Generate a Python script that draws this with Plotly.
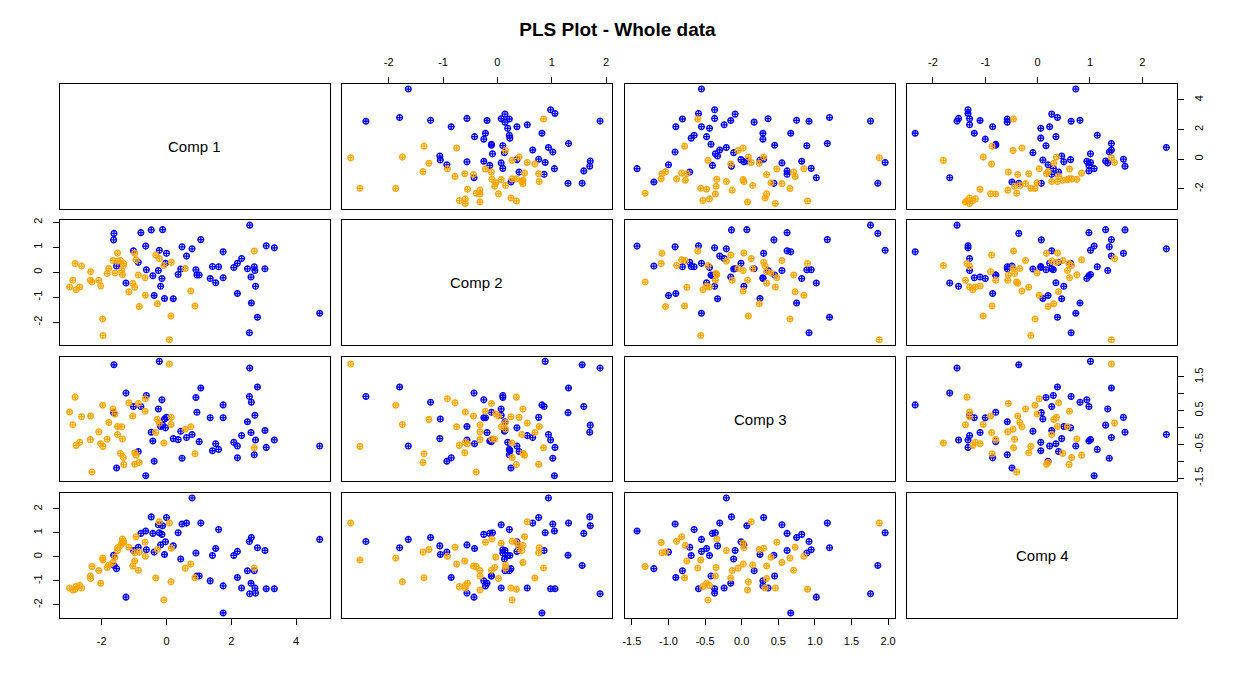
import plotly.graph_objects as go

# ---- data (component scores) ----
comp1 = [-1.63, -1.62, -1.54, -1.25, -1.02, -0.87, -0.79, -0.64, -0.62, -0.47, -0.42, -0.38, -0.25, -0.22,
         -0.18, -0.14, -0.12, -0.06, -0.03, 0.00, 0.21, 0.36, 0.44, 0.48, 0.62, 0.79, 0.91, 0.94, 1.01, 1.06,
         1.35, 1.42, 1.52, 1.61, 1.75, 1.75, 2.08, 2.19, 2.19, 2.32, 2.50, 2.56, 2.57, 2.61, 2.62, 2.71, 2.73,
         2.75, 2.81, 3.04, 3.08, 3.33, 4.73,
         -2.99, -2.89, -2.82, -2.79, -2.68, -2.62, -2.35, -2.34, -2.30, -2.09, -2.03, -1.97, -1.96, -1.83,
         -1.78, -1.65, -1.59, -1.51, -1.51, -1.42, -1.38, -1.36, -1.33, -1.32, -1.16, -1.04, -0.98, -0.98,
         -0.94, -0.87, -0.84, -0.66, -0.65, -0.33, -0.28, -0.22, -0.08, 0.09, 0.14, 0.15, 0.58, 0.75, 0.88, 2.71]
comp2 = [1.30, 1.56, 0.25, -0.43, 0.86, 0.40, 1.59, 1.05, 0.10, 1.70, -0.14, -0.93, 0.07, 0.88, -0.56, -0.25,
         1.71, -1.05, 0.36, 0.76, -1.06, -0.09, 0.13, 1.02, 0.65, 0.94, 0.10, -0.11, -0.11, 1.31, -0.25, 0.23,
         -0.42, 0.22, 0.82, -0.22, 0.19, 0.36, -0.85, 0.55, 0.14, -2.42, 1.89, -0.19, -1.23, 0.22, 0.07, -0.56,
         -1.80, 0.14, 1.06, 0.98, -1.64,
         -0.59, -0.32, 0.35, -0.70, -0.59, 0.25, -0.32, 0.02, -0.39, -0.32, -0.55, -1.87, -2.53, -0.05, 0.15,
         0.47, -0.03, 0.77, 0.45, 0.47, 0.07, -0.10, 0.27, 0.35, -0.78, -0.44, 0.76, -0.60, 0.50, -0.11, -1.37,
         -0.22, -0.92, 0.69, -1.26, 0.55, 0.27, -2.70, -1.75, 0.40, 0.15, -0.75, -1.35, 0.85]
comp3 = [0.44, 1.86, -1.20, 1.02, 0.62, -0.71, 0.62, -1.43, 0.95, -0.14, -0.40, -1.00, 0.55, 1.96, 0.03, 0.82,
         0.07, 0.25, -0.01, 0.30, -0.33, -0.36, -0.11, -0.91, -0.30, -0.21, 0.89, 0.45, -0.42, 1.17, 0.29, -0.69,
         -0.48, -0.65, 0.67, 0.29, -0.44, -0.55, -0.90, -0.24, 0.17, 0.92, 1.76, -0.15, 0.75, -0.81, 0.36, -0.37,
         1.20, -0.09, -0.59, -0.37, -0.55,
         0.46, 0.08, 0.90, -0.53, -0.44, 0.32, -0.36, 0.34, -1.32, -0.13, -0.48, 0.66, -0.56, -0.35, 0.15, 0.55,
         0.40, 0.03, -0.21, -0.77, 0.02, -0.34, -0.89, -1.10, 0.73, 0.34, -1.09, -0.75, -0.82, 0.71, -1.04, 0.48,
         0.85, -0.15, 0.24, 0.13, -0.46, 1.88, 0.09, 0.30, -0.05, 0.02, -0.78, -0.60]
comp4 = [0.07, -0.36, -0.49, -1.68, 0.27, 0.40, 0.98, 1.08, 0.30, 1.67, 0.98, 0.20, 1.34, 1.01, 0.50, 0.94,
         1.30, 0.10, 0.63, 1.64, 0.46, 1.01, -0.09, 1.37, 1.41, 2.46, 0.16, -0.80, -0.80, 1.41, -1.00, 0.06,
         0.35, 1.14, -2.34, -1.21, 0.06, 0.23, -0.86, -1.30, -0.58, 0.64, -1.54, -1.10, 0.81, -0.58, -1.30,
         -1.51, 0.38, 0.27, -1.33, -1.33, 0.73,
         -1.30, -1.38, -1.35, -1.24, -1.19, -1.30, -0.80, -0.90, -0.40, -0.57, -1.10, -0.05, -0.13, -0.44, -0.34,
         -0.23, -0.01, 0.38, 0.27, 0.48, 0.57, 0.75, 0.65, 0.60, 0.40, -0.38, 0.17, -0.17, 0.84, -0.56, 0.20,
         0.61, 0.03, -0.88, 0.31, 1.47, -1.80, 1.41, -1.04, 0.36, -0.47, -0.30, -0.87, -0.46]
group = ["B"] * 53 + ["O"] * 44
group_colors = {"B": "#0000FF", "O": "#FFA500"}
comp_names = ["Comp 1", "Comp 2", "Comp 3", "Comp 4"]

x_ticks = [[-2, 0, 2, 4], [-2, -1, 0, 1, 2], [-1.5, -1.0, -0.5, 0.0, 0.5, 1.0, 1.5, 2.0], [-2, -1, 0, 1, 2]]
x_ticktext = [["-2", "0", "2", "4"], ["-2", "-1", "0", "1", "2"],
              ["-1.5", "-1.0", "-0.5", "0.0", "0.5", "1.0", "1.5", "2.0"], ["-2", "-1", "0", "1", "2"]]
y_ticks = [[-2, 0, 2, 4], [-2, -1, 0, 1, 2], [-1.5, -1.0, -0.5, 0.0, 0.5, 1.0, 1.5], [-2, -1, 0, 1, 2]]
y_ticktext = [["-2", "0", "2", "4"], ["-2", "-1", "0", "1", "2"],
              ["-1.5", "", "-0.5", "", "0.5", "", "1.5"], ["-2", "-1", "0", "1", "2"]]

# ---- layout geometry ----
W, H = 1235, 679
col_px = [(57, 328), (340, 611), (624, 895), (907, 1178)]
row_px = [(82, 208), (220, 346), (358, 484), (496, 622)]
x_ranges = [[-3.292, 5.046], [-2.862, 2.11], [-1.595, 2.096], [-2.495, 2.667]]
y_ranges = [[-3.33, 5.07], [-2.91, 2.08], [-1.595, 2.096], [-2.536, 2.66]]

data = [comp1, comp2, comp3, comp4]
colors = [group_colors[g] for g in group]
font_fam = "Liberation Sans, Arial, sans-serif"

fig = go.Figure()
layout = dict(
    width=W, height=H, margin=dict(l=0, r=0, t=0, b=0),
    paper_bgcolor="white", plot_bgcolor="white", showlegend=False,
    font=dict(family=font_fam, size=11, color="black"),
    title=dict(text="<b>PLS Plot - Whole data</b>", x=0.5, xanchor="center", y=1 - 29 / H, yanchor="middle",
               font=dict(size=19, family=font_fam, color="black")),
    annotations=[],
)

for i in range(4):
    for j in range(4):
        k = i * 4 + j + 1
        xn = "x" if k == 1 else f"x{k}"
        yn = "y" if k == 1 else f"y{k}"
        xk = "xaxis" if k == 1 else f"xaxis{k}"
        yk = "yaxis" if k == 1 else f"yaxis{k}"
        x0, x1 = col_px[j]
        y0, y1 = row_px[i]
        show_x = (i == 0 and j in (1, 3)) or (i == 3 and j in (0, 2))
        show_y = (j == 0 and i in (1, 3)) or (j == 3 and i in (0, 2))
        xax = dict(domain=[x0 / W, x1 / W], range=x_ranges[j], anchor=yn,
                   showgrid=False, zeroline=False, showline=True, mirror=True,
                   linecolor="black", linewidth=1, fixedrange=True)
        yax = dict(domain=[1 - y1 / H, 1 - y0 / H], range=y_ranges[i], anchor=xn,
                   showgrid=False, zeroline=False, showline=True, mirror=True,
                   linecolor="black", linewidth=1, fixedrange=True)
        if show_x:
            xax.update(side="top" if i == 0 else "bottom", ticks="outside", ticklen=6, tickcolor="black",
                       tickvals=x_ticks[j], ticktext=x_ticktext[j], showticklabels=True,
                       ticklabelstandoff=7, tickfont=dict(size=11, family=font_fam))
        else:
            xax.update(showticklabels=False, ticks="")
        if show_y:
            yax.update(side="left" if j == 0 else "right", ticks="outside", ticklen=6, tickcolor="black",
                       tickvals=y_ticks[i], ticktext=y_ticktext[i], showticklabels=True, tickangle=-90,
                       ticklabelstandoff=6, tickfont=dict(size=11, family=font_fam))
        else:
            yax.update(showticklabels=False, ticks="")
        layout[xk] = xax
        layout[yk] = yax
        if i == j:
            fig.add_trace(go.Scatter(x=[None], y=[None], xaxis=xn, yaxis=yn, mode="markers",
                                     hoverinfo="skip"))
            layout["annotations"].append(dict(
                text=comp_names[i], xref=f"{xn} domain", yref=f"{yn} domain", x=0.5, y=0.5,
                showarrow=False, font=dict(size=15, family=font_fam, color="black")))
        else:
            fig.add_trace(go.Scatter(
                x=data[j], y=data[i], xaxis=xn, yaxis=yn, mode="markers",
                marker=dict(symbol="circle-cross-open", size=5.8, color=colors,
                            line=dict(width=1.3, color=colors)),
                hoverinfo="skip"))

fig.update_layout(**layout)
fig.write_html("out.html", config={"displayModeBar": False},
               post_script="document.body.style.margin='0px';document.body.style.overflow='hidden';")
